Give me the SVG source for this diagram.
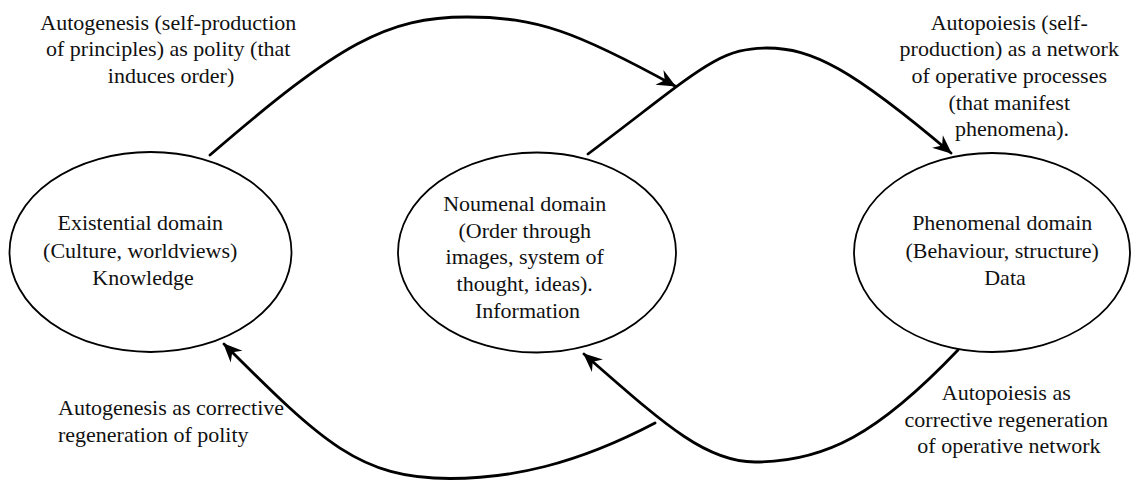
<svg xmlns="http://www.w3.org/2000/svg" width="1132" height="481" viewBox="0 0 1132 481">
  <style>
    .bg { fill: #ffffff; }
    .domain { fill: #ffffff; stroke: #000000; stroke-width: 1.8; }
    .flow { fill: none; stroke: #000000; stroke-width: 2.8; stroke-linecap: round; }
    text { font-family: "Liberation Serif", "Times New Roman", serif; font-size: 22px; fill: #111111; }
    .mid { text-anchor: middle; }
  </style>
  <defs>
    <marker id="head" markerUnits="userSpaceOnUse" markerWidth="24" markerHeight="20" viewBox="-18 -9 20 18" refX="0" refY="0" orient="auto">
      <path d="M1,0 L-16,-7.5 L-10.5,0 L-16,7.5 Z" fill="#000000"/>
    </marker>
  </defs>

  <rect class="bg" x="0" y="0" width="1132" height="481"/>

  <!-- connectors -->
  <g id="connectors">
    <!-- autogenesis: existential -> noumenal (top) -->
    <path class="flow" d="M210,155 C340,43 387,17 467,17 C537,17 577,32 675,86" marker-end="url(#head)"/>
    <!-- autopoiesis: noumenal -> phenomenal (top) -->
    <path class="flow" d="M588,154 C698,71.5 717,48 767,48 C812,48 852,69 951,153" marker-end="url(#head)"/>
    <!-- corrective regeneration: phenomenal -> noumenal (bottom) -->
    <path class="flow" d="M958,350 C878,434 825,462 755,462 C705,462 663,423 584,354" marker-end="url(#head)"/>
    <!-- corrective regeneration: noumenal -> existential (bottom) -->
    <path class="flow" d="M655,423 C575,465 510,478.5 450,478.5 C360,478.5 323,443 224,344" marker-end="url(#head)"/>
  </g>

  <!-- domains -->
  <g id="existential">
    <ellipse class="domain" cx="150.5" cy="252" rx="141" ry="100"/>
    <text class="mid">
      <tspan x="143" y="230">Existential domain</tspan>
      <tspan x="143" y="257.5">(Culture, worldviews)</tspan>
      <tspan x="143" y="285">Knowledge</tspan>
    </text>
  </g>

  <g id="noumenal">
    <ellipse class="domain" cx="537" cy="252.5" rx="139" ry="100"/>
    <text class="mid">
      <tspan x="527.5" y="211">Noumenal domain</tspan>
      <tspan x="527.5" y="237.7">(Order through</tspan>
      <tspan x="527.5" y="264.4">images, system of</tspan>
      <tspan x="527.5" y="291">thought, ideas).</tspan>
      <tspan x="527.5" y="317.8">Information</tspan>
    </text>
  </g>

  <g id="phenomenal">
    <ellipse class="domain" cx="992" cy="252.5" rx="138" ry="99.5"/>
    <text class="mid">
      <tspan x="1005" y="230">Phenomenal domain</tspan>
      <tspan x="1005" y="257.5">(Behaviour, structure)</tspan>
      <tspan x="1005" y="285">Data</tspan>
    </text>
  </g>

  <!-- connector labels -->
  <g id="label-autogenesis">
    <text class="mid">
      <tspan x="171" y="29.5">Autogenesis (self-production</tspan>
      <tspan x="171" y="56.2">of principles) as polity (that</tspan>
      <tspan x="171" y="82.9">induces order)</tspan>
    </text>
  </g>

  <g id="label-autopoiesis">
    <text class="mid">
      <tspan x="1012" y="29.5">Autopoiesis (self-</tspan>
      <tspan x="1012" y="56.2">production) as a network</tspan>
      <tspan x="1012" y="82.9">of operative processes</tspan>
      <tspan x="1012" y="109.6">(that manifest</tspan>
      <tspan x="1012" y="136.3">phenomena).</tspan>
    </text>
  </g>

  <g id="label-autogenesis-corrective">
    <text>
      <tspan x="58" y="415">Autogenesis as corrective</tspan>
      <tspan x="58" y="442">regeneration of polity</tspan>
    </text>
  </g>

  <g id="label-autopoiesis-corrective">
    <text class="mid">
      <tspan x="1009" y="400">Autopoiesis as</tspan>
      <tspan x="1009" y="427">corrective regeneration</tspan>
      <tspan x="1009" y="453">of operative network</tspan>
    </text>
  </g>
</svg>
